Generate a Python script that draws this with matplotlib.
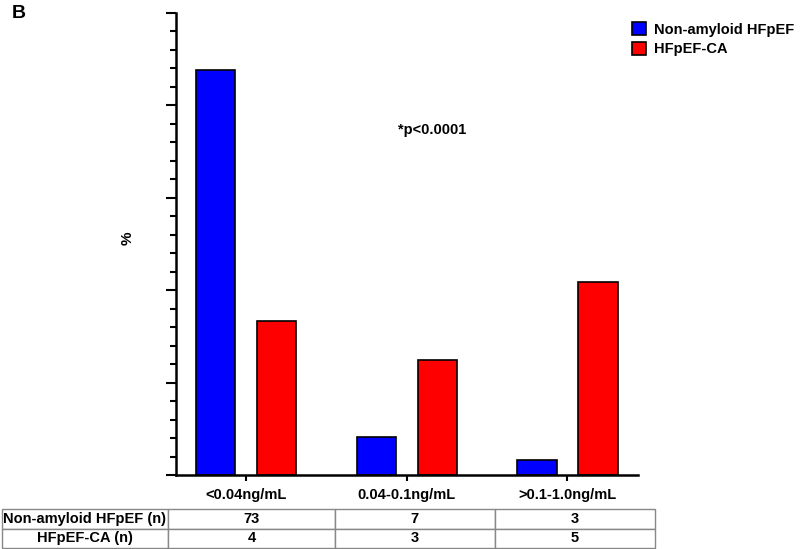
import numpy as np
import matplotlib.pyplot as plt
from matplotlib.ticker import MultipleLocator

plt.rcParams['font.family'] = ['Liberation Sans', 'DejaVu Sans']
plt.rcParams['font.weight'] = 'bold'

categories = ["<0.04ng/mL", "0.04-0.1ng/mL", ">0.1-1.0ng/mL"]
non_amyloid_pct = [87.7, 8.3, 3.3]
hfpef_ca_pct = [33.3, 25.0, 41.7]
non_amyloid_n = ["73", "7", "3"]
hfpef_ca_n = ["4", "3", "5"]
row_labels = ["Non-amyloid HFpEF (n)", "HFpEF-CA (n)"]

fig = plt.figure(figsize=(8, 5.49), dpi=100)
ax = fig.add_axes([0.2196, 0.1343, 0.5779, 0.8426])

x = np.arange(len(categories))
w = 0.245
off = 0.19
ax.bar(x - off, non_amyloid_pct, w, color="#0000FF", edgecolor="black", linewidth=1.2,
       label="Non-amyloid HFpEF")
ax.bar(x + off, hfpef_ca_pct, w, color="#FF0000", edgecolor="black", linewidth=1.2,
       label="HFpEF-CA")

ax.set_xlim(-0.44, 2.44)
ax.set_ylim(0, 100)
ax.yaxis.set_major_locator(MultipleLocator(20))
ax.yaxis.set_minor_locator(MultipleLocator(4))
ax.tick_params(axis="y", which="major", length=7, width=1.5, labelleft=False)
ax.tick_params(axis="y", which="minor", length=4.5, width=1.5)
ax.tick_params(axis="x", length=4, width=1.5, pad=5)
ax.set_xticks(x)
ax.set_xticklabels(categories, fontsize=10.5, fontweight="bold")
for s in ["top", "right"]:
    ax.spines[s].set_visible(False)
for s in ["left", "bottom"]:
    ax.spines[s].set_linewidth(1.8)

fig.text(0.159, 0.566, "%", rotation=90, fontsize=11, ha="center", va="center", fontweight="bold")
fig.text(0.015, 0.975, "B", fontsize=14, fontweight="bold", ha="left", va="center")
fig.text(0.497, 0.763, "*p<0.0001", fontsize=10.5, fontweight="bold", ha="left", va="center")

ax.legend(loc="upper left", bbox_to_anchor=(0.777, 0.978), bbox_transform=fig.transFigure,
          frameon=False, fontsize=10.5, handlelength=1.0, handleheight=1.0,
          handletextpad=0.5, labelspacing=0.35, borderaxespad=0.3)

# count table below the axis
tax = fig.add_axes([0.0025, 1 - 547.7 / 549, 0.816, (547.7 - 509.3) / 549])
tax.axis("off")
cells = [[row_labels[0]] + non_amyloid_n, [row_labels[1]] + hfpef_ca_n]
tbl = tax.table(cellText=cells, cellLoc="center", bbox=[0, 0, 1, 1],
                colWidths=[166, 167, 160, 160])
tbl.auto_set_font_size(False)
for (r, c), cell in tbl.get_celld().items():
    cell.set_edgecolor("#888888")
    cell.set_linewidth(1.0)
    cell.get_text().set_fontsize(10.5)
    cell.get_text().set_fontweight("bold")

fig.savefig("out.png", dpi=100)
